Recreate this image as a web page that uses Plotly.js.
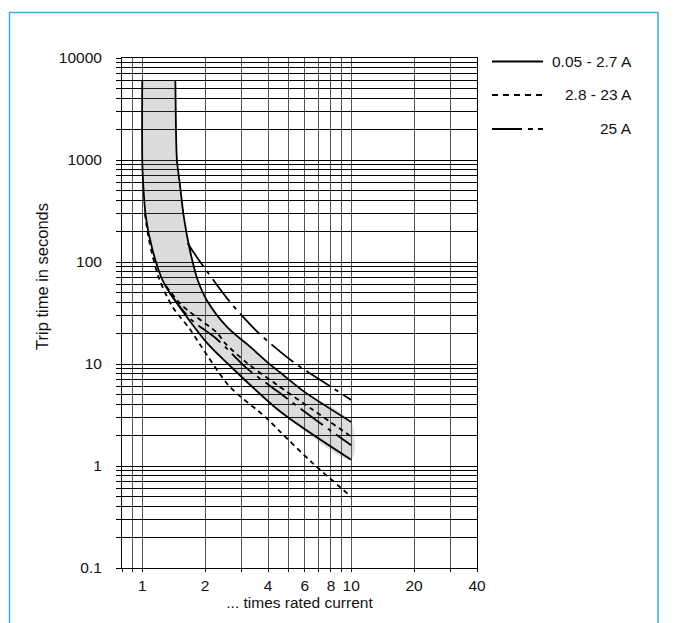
<!DOCTYPE html>
<html>
<head>
<meta charset="utf-8">
<script src="https://cdn.plot.ly/plotly-3.0.1.min.js"></script>
<style>
  html, body { margin: 0; padding: 0; background: #fff; }
  #chart { width: 674px; height: 623px; }
</style>
</head>
<body>
<div id="chart"></div>
<script>
// ---- data (multiples of rated current vs trip time in s) ----
var seriesNames = ['0.05 - 2.7 A', '2.8 - 23 A', '25 A'];

// 0.05 - 2.7 A band (solid)
var solidUpperX = [1.44, 1.45, 1.465, 1.51, 1.58, 1.69, 1.84, 2.04, 2.55, 3.29, 4.11, 4.59, 6.0, 10];
var solidUpperY = [6000, 2000, 1000, 600, 280, 131, 67, 42, 23, 14.7, 9.8, 8.2, 5.3, 2.7];
var solidLowerX = [1.0, 1.0, 1.01, 1.04, 1.12, 1.25, 1.40, 2.04, 2.63, 4.59, 10];
var solidLowerY = [6000, 1000, 595, 276, 131, 66.6, 45, 16.1, 9.6, 3.4, 1.15];

// 2.8 - 23 A band (dashed)
var dashUpperX = [1.3, 1.51, 1.69, 2.28, 2.49, 3.18, 4.44, 6.5, 10];
var dashUpperY = [58, 39.5, 32.3, 20.2, 16, 10.2, 6.2, 3.6, 1.94];
var dashLowerX = [1.03, 1.08, 1.2, 1.4, 1.69, 1.89, 2.63, 3.89, 4.59, 6.5, 10];
var dashLowerY = [300, 160, 70, 36, 22, 15.5, 5.96, 3.02, 2.15, 1.08, 0.5];

// 25 A band (dash-dot)
var ddUpperX = [1.65, 1.84, 2.63, 3.60, 5.30, 8.02, 10];
var ddUpperY = [153, 109, 40.5, 20.2, 10.4, 5.96, 4.44];
var ddLowerX = [1.35, 1.69, 2.28, 3.18, 4.44, 6.5, 10];
var ddLowerY = [50, 28, 17.5, 9.0, 5.4, 3.0, 1.6];

// ---- ticks ----
var xTickVals = [0.8, 0.9, 1, 2, 3, 4, 5, 6, 7, 8, 9, 10, 20, 30, 40];
var xTickText = ['', '', '1', '2', '', '4', '', '6', '', '8', '', '10', '20', '', '40'];
var yDecades = [0.1, 1, 10, 100, 1000];
var yMajorText = ['0.1', '1', '10', '100', '1000', '10000'];
var yMultiples = [1, 2, 3, 4, 5, 6, 7, 8, 9];

var yTickVals = [], yTickText = [];
yDecades.forEach(function (d, i) {
  yMultiples.forEach(function (m) {
    yTickVals.push(+(d * m).toPrecision(3));
    yTickText.push(m === 1 ? yMajorText[i] : '');
  });
});
yTickVals.push(10000); yTickText.push(yMajorText[5]);

var DASHED = '5px,4px';
var DASHDOT = '28px,6px,4px,6px';
var LW = 1.8;

function curve(xs, ys, dash) {
  return { x: xs, y: ys, type: 'scatter', mode: 'lines', hoverinfo: 'skip',
           line: { color: '#000', width: LW, dash: dash, shape: 'spline', smoothing: 0.8 } };
}

var bandX = solidUpperX.concat(solidLowerX.slice().reverse());
var bandY = solidUpperY.concat(solidLowerY.slice().reverse());

var traces = [
  { x: bandX, y: bandY, type: 'scatter', mode: 'lines', fill: 'toself',
    fillcolor: 'rgba(110,110,110,0.24)', line: { width: 0, shape: 'spline', smoothing: 0.8 }, hoverinfo: 'skip' },
  curve(solidUpperX, solidUpperY, 'solid'),
  curve(solidLowerX, solidLowerY, 'solid'),
  curve(dashUpperX, dashUpperY, DASHED),
  curve(dashLowerX, dashLowerY, DASHED),
  curve(ddUpperX, ddUpperY, DASHDOT),
  curve(ddLowerX, ddLowerY, DASHDOT)
];

// plot area: x 122..477 px, y 58..568 px
function px(p) { return (p - 122) / 355; }
function py(p) { return (568 - p) / 510; }

var FS = 15.5;
var legendY = [61.5, 95, 129];
var legendDash = ['solid', '6px,5px', '30px,6px,5px,5px,5px,20px'];
var shapes = [
  { type: 'rect', xref: 'paper', yref: 'paper', x0: px(9.5), x1: px(658), y0: py(650), y1: py(12.5),
    line: { color: '#3aabe3', width: 1.5 }, fillcolor: 'rgba(0,0,0,0)', layer: 'below' }
];
var annotations = [
  { xref: 'paper', yref: 'paper', x: px(42), y: py(277), text: 'Trip time in seconds', textangle: -90,
    showarrow: false, font: { size: 16.5, color: '#111' }, xanchor: 'center', yanchor: 'middle' }
];
seriesNames.forEach(function (name, i) {
  shapes.push({ type: 'line', xref: 'paper', yref: 'paper', x0: px(492), x1: px(543),
                y0: py(legendY[i]), y1: py(legendY[i]), line: { color: '#000', width: 1.8, dash: legendDash[i] } });
  annotations.push({ xref: 'paper', yref: 'paper', x: px(634), y: py(legendY[i]), text: name,
                     showarrow: false, xanchor: 'right', yanchor: 'middle', font: { size: FS, color: '#111' } });
});

var layout = {
  width: 674, height: 623,
  margin: { l: 122, r: 197, t: 58, b: 55 },
  paper_bgcolor: '#fff', plot_bgcolor: '#fff',
  showlegend: false,
  font: { family: '"Liberation Sans", Arial, Helvetica, sans-serif', size: FS, color: '#111' },
  xaxis: {
    type: 'log', range: [Math.log10(0.8), Math.log10(40)],
    tickmode: 'array', tickvals: xTickVals, ticktext: xTickText,
    showgrid: true, gridcolor: '#555', gridwidth: 1,
    showline: true, linecolor: '#000', linewidth: 1, mirror: true,
    ticks: 'outside', ticklen: 3, tickcolor: '#000', tickwidth: 1,
    ticklabelstandoff: 0,
    zeroline: false, automargin: false,
    title: { text: '... times rated current', font: { size: FS, color: '#111' }, standoff: 4 }
  },
  yaxis: {
    type: 'log', range: [-1, 4],
    tickmode: 'array', tickvals: yTickVals, ticktext: yTickText,
    showgrid: true, gridcolor: '#000', gridwidth: 1,
    showline: true, linecolor: '#000', linewidth: 1, mirror: true,
    ticks: 'outside', ticklen: 5, tickcolor: '#000', tickwidth: 1,
    ticklabelstandoff: 11,
    zeroline: false, automargin: false
  },
  shapes: shapes,
  annotations: annotations
};

Plotly.newPlot('chart', traces, layout, { staticPlot: true, displayModeBar: false });
</script>
</body>
</html>
